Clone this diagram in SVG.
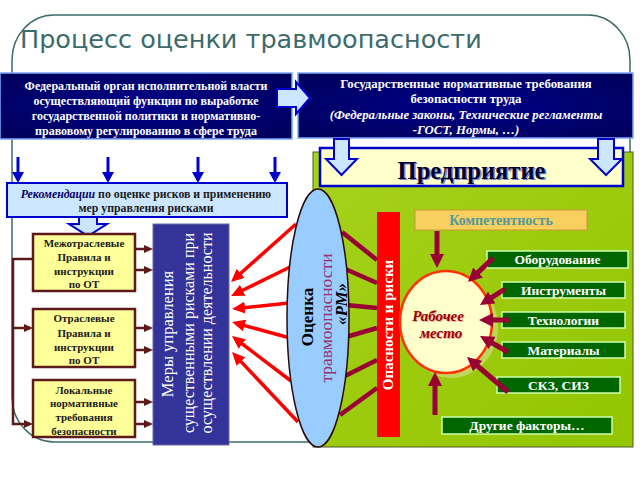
<svg xmlns="http://www.w3.org/2000/svg" width="640" height="480" viewBox="0 0 640 480">
<defs>
<style>
.frame{fill:none;stroke:#3d6b6b;stroke-width:1.5}
.wt{font-family:"Liberation Serif","Times New Roman",serif;font-weight:bold;fill:#ffffff;text-anchor:middle}
.bt{font-family:"Liberation Serif","Times New Roman",serif;font-weight:bold;fill:#1a1a1a;text-anchor:middle}
.yel{fill:#ffff99;stroke:#5c1a1a;stroke-width:2.5}
.gbox{fill:#006600;stroke:#ccffaa;stroke-width:1.5}
.gt{font-family:"Liberation Serif","Times New Roman",serif;font-weight:bold;font-size:13.5px;fill:#ffffff;text-anchor:middle}
.lb{fill:#cce6ff;stroke:#0000cc;stroke-width:2}
.mar{stroke:#990033;stroke-width:5;fill:none}
.red{stroke:#ff0000;stroke-width:3.5;fill:none}
.dk{stroke:#5c1a1a;stroke-width:2.5;fill:none}
.blu{stroke:#0000cc;stroke-width:3;fill:none}
.link{stroke:#990033;stroke-width:4.5;fill:none}
</style>
<marker id="hM" viewBox="0 0 14 14" markerUnits="userSpaceOnUse" markerWidth="14" markerHeight="14" refX="4" refY="7" orient="auto"><path d="M0,0 L14,7 L0,14 z" fill="#990033"/></marker>
<marker id="hR" viewBox="0 0 13 12" markerUnits="userSpaceOnUse" markerWidth="13" markerHeight="12" refX="4" refY="6" orient="auto"><path d="M0,0 L13,6 L0,12 z" fill="#ff0000"/></marker>
<marker id="hD" viewBox="0 0 9 8" markerUnits="userSpaceOnUse" markerWidth="9" markerHeight="8" refX="3" refY="4" orient="auto"><path d="M0,0 L9,4 L0,8 z" fill="#5c1a1a"/></marker>
<marker id="hB" viewBox="0 0 11 12" markerUnits="userSpaceOnUse" markerWidth="11" markerHeight="12" refX="3" refY="6" orient="auto"><path d="M0,0 L11,6 L0,12 z" fill="#0000cc"/></marker>
<linearGradient id="gGreen" x1="0" y1="0" x2="1" y2="1"><stop offset="0" stop-color="#a6d21c"/><stop offset="1" stop-color="#93c500"/></linearGradient>
<radialGradient id="gNavy" cx="0.5" cy="0.5" r="0.7"><stop offset="0" stop-color="#00008a"/><stop offset="1" stop-color="#000058"/></radialGradient>
</defs>

<rect class="frame" x="12" y="15" width="618" height="427" rx="42" ry="45"/>
<text x="20" y="48" font-family="'DejaVu Sans','Liberation Sans',sans-serif" font-size="25.5" fill="#3d6b6b">Процесс оценки травмоопасности</text>

<g id="enterprise-area">
<rect x="313" y="152" width="320" height="295" fill="url(#gGreen)" stroke="#4a5a2a" stroke-width="1"/>
</g>

<g id="enterprise">
<rect x="320" y="148" width="303" height="38" fill="#ffffcc" stroke="#0000cc" stroke-width="2.5"/>
<text x="473" y="180" font-family="'Liberation Serif',serif" font-weight="bold" font-size="24.5" fill="#7f86c8" text-anchor="middle">Предприятие</text>
<text x="471.5" y="178.5" font-family="'Liberation Serif',serif" font-weight="bold" font-size="24.5" fill="#000033" text-anchor="middle">Предприятие</text>
</g>

<g id="federal">
<rect x="0" y="73" width="292" height="66" fill="url(#gNavy)" stroke="#7aa6ff" stroke-width="1.5"/>
<text class="wt" font-size="12"><tspan x="146" y="90">Федеральный орган исполнительной власти</tspan><tspan x="146" y="105">осуществляющий функции по выработке</tspan><tspan x="146" y="120">государственной политики и нормативно-</tspan><tspan x="146" y="135">правовому регулированию в сфере труда</tspan></text>
</g>

<g id="state-req">
<rect x="298" y="73" width="335" height="65" fill="url(#gNavy)" stroke="#7aa6ff" stroke-width="1.5"/>
<text class="wt" font-size="12.8"><tspan x="466" y="88">Государственные нормативные требования</tspan><tspan x="466" y="103">безопасности труда</tspan><tspan x="466" y="119" font-style="italic">(Федеральные законы, Технические регламенты</tspan><tspan x="466" y="134" font-style="italic">-ГОСТ, Нормы, …)</tspan></text>
</g>

<g id="block-arrows">
<polygon class="lb" points="277,89 296,89 296,82 310,98 296,114 296,107 277,107" stroke="#3366cc" stroke-width="1.5"/>
<polygon class="lb" points="334,139 349,139 349,159 357,159 341.5,175 326,159 334,159" stroke="#3366cc" stroke-width="1.5"/>
<polygon class="lb" points="598,139 614,139 614,159 622,159 606,175 590,159 598,159" stroke="#3366cc" stroke-width="1.5"/>
<polygon class="lb" points="79,217 97,217 97,224 107,224 88,236 69,224 79,224"/>
</g>

<g id="recommendations">
<rect x="7" y="183" width="280" height="34" class="lb"/>
<text class="bt" font-size="11.8" fill="#000033"><tspan x="146" y="198"><tspan font-style="italic" fill="#000066">Рекомендации</tspan> по оценке рисков и применению</tspan><tspan x="146" y="212">мер управления рисками</tspan></text>
</g>

<g id="interbranch">
<rect class="yel" x="33" y="234" width="102" height="57"/>
<text class="bt" font-size="11"><tspan x="84" y="247">Межотраслевые</tspan><tspan x="84" y="261">Правила и</tspan><tspan x="84" y="275">инструкции</tspan><tspan x="84" y="288">по ОТ</tspan></text>
</g>
<g id="branch">
<rect class="yel" x="33" y="309" width="102" height="58"/>
<text class="bt" font-size="11"><tspan x="84" y="322">Отраслевые</tspan><tspan x="84" y="337">Правила и</tspan><tspan x="84" y="351">инструкции</tspan><tspan x="84" y="364">по ОТ</tspan></text>
</g>
<g id="local">
<rect class="yel" x="33" y="380" width="102" height="57"/>
<text class="bt" font-size="11"><tspan x="84" y="394">Локальные</tspan><tspan x="84" y="407">нормативные</tspan><tspan x="84" y="421">требования</tspan><tspan x="84" y="435">безопасности</tspan></text>
</g>

<g id="measures">
<rect x="153" y="224" width="76" height="221" fill="#333399" stroke="#6a6aa0" stroke-width="1"/>
<text font-family="'Liberation Serif',serif" fill="#ffffff" text-anchor="middle" font-size="16.5" transform="translate(173,334) rotate(-90)">Меры управления</text>
<text font-family="'Liberation Serif',serif" fill="#ffffff" text-anchor="middle" font-size="16" transform="translate(194,333) rotate(-90)">существенными рисками при</text>
<text font-family="'Liberation Serif',serif" fill="#ffffff" text-anchor="middle" font-size="16" transform="translate(212,333) rotate(-90)">осуществлении  деятельности</text>
</g>

<g id="connectors">
<line class="blu" x1="18" y1="157" x2="18" y2="175" marker-end="url(#hB)"/>
<line class="blu" x1="108" y1="157" x2="108" y2="175" marker-end="url(#hB)"/>
<line class="blu" x1="198" y1="157" x2="198" y2="175" marker-end="url(#hB)"/>
<line class="blu" x1="275" y1="157" x2="275" y2="175" marker-end="url(#hB)"/>
<polyline class="dk" points="33,259 13,259 13,424 27,424" marker-end="url(#hD)"/>
<line class="dk" x1="13" y1="328" x2="27" y2="328" marker-end="url(#hD)"/>
<line class="dk" x1="135" y1="249" x2="147" y2="249" marker-end="url(#hD)"/>
<line class="dk" x1="135" y1="270" x2="147" y2="270" marker-end="url(#hD)"/>
<line class="dk" x1="135" y1="328" x2="147" y2="328" marker-end="url(#hD)"/>
<line class="dk" x1="135" y1="350" x2="147" y2="350" marker-end="url(#hD)"/>
<line class="dk" x1="135" y1="402" x2="147" y2="402" marker-end="url(#hD)"/>
<line class="dk" x1="135" y1="424" x2="147" y2="424" marker-end="url(#hD)"/>
<line class="red" x1="296" y1="224" x2="237.7" y2="276" marker-end="url(#hR)"/>
<line class="red" x1="290" y1="267" x2="239.1" y2="292" marker-end="url(#hR)"/>
<line class="red" x1="289" y1="303" x2="241" y2="308" marker-end="url(#hR)"/>
<line class="red" x1="290" y1="338" x2="240.7" y2="324.5" marker-end="url(#hR)"/>
<line class="red" x1="291" y1="381" x2="239.1" y2="341.5" marker-end="url(#hR)"/>
<line class="red" x1="298" y1="422" x2="238.2" y2="358.6" marker-end="url(#hR)"/>
<line class="link" x1="342" y1="232" x2="377" y2="260"/>
<line class="link" x1="343" y1="268" x2="377" y2="283"/>
<line class="link" x1="346" y1="305" x2="377" y2="308"/>
<line class="link" x1="346" y1="337" x2="377" y2="328"/>
<line class="link" x1="343" y1="377" x2="377" y2="360"/>
<line class="link" x1="340" y1="415" x2="377" y2="388"/>
</g>

<g id="assessment">
<ellipse cx="318" cy="318" rx="31" ry="129" fill="#99ccff" stroke="#2a0a0a" stroke-width="1.5"/>
<text font-family="'Liberation Serif',serif" font-weight="bold" font-size="17" fill="#000000" text-anchor="middle" transform="translate(313,317) rotate(-90)">Оценка</text>
<text font-family="'Liberation Serif',serif" font-size="17.5" fill="#993366" text-anchor="middle" transform="translate(332,318) rotate(-90)">травмоопасности</text>
<text font-family="'Liberation Serif',serif" font-weight="bold" font-style="italic" font-size="17" fill="#000000" text-anchor="middle" transform="translate(347,304) rotate(-90)">«РМ»</text>
</g>

<g id="hazards">
<rect x="377" y="212" width="23" height="225" fill="#ff0000"/>
<text font-family="'Liberation Serif',serif" font-weight="bold" font-size="15" fill="#ffffff" text-anchor="middle" transform="translate(393,325) rotate(-90)">Опасности и риски</text>
</g>

<g id="competence">
<rect x="415" y="210" width="172" height="20" fill="#f9d060" stroke="#c89a30" stroke-width="1"/>
<text x="501" y="225" font-family="'Liberation Serif',serif" font-weight="bold" font-size="14" fill="#4f9a9a" text-anchor="middle">Компетентность</text>
</g>

<g id="workplace">
<ellipse cx="451" cy="327" rx="47" ry="51" fill="#c8d870" opacity="0.8"/>
<ellipse cx="446" cy="322" rx="46" ry="51" fill="#ffffcc" stroke="#ff3300" stroke-width="2.5"/>
<text font-family="'Liberation Serif',serif" font-weight="bold" font-style="italic" font-size="15" text-anchor="middle" fill="#e8b0a0"><tspan x="439" y="322">Рабочее</tspan><tspan x="442" y="339">место</tspan></text>
<text font-family="'Liberation Serif',serif" font-weight="bold" font-style="italic" font-size="15" text-anchor="middle" fill="#990000"><tspan x="438" y="321">Рабочее</tspan><tspan x="441" y="338">место</tspan></text>
</g>

<g id="equipment"><rect class="gbox" x="487" y="251" width="141" height="17"/><text class="gt" x="557.5" y="264">Оборудование</text></g>
<g id="tools"><rect class="gbox" x="502" y="282" width="123" height="16"/><text class="gt" x="563.5" y="295">Инструменты</text></g>
<g id="technology"><rect class="gbox" x="502" y="312" width="123" height="16"/><text class="gt" x="563.5" y="325">Технологии</text></g>
<g id="materials"><rect class="gbox" x="502" y="342" width="123" height="16"/><text class="gt" x="563.5" y="355">Материалы</text></g>
<g id="ppe"><rect class="gbox" x="497" y="377" width="123" height="16"/><text class="gt" x="558.5" y="390">СКЗ, СИЗ</text></g>
<g id="other"><rect class="gbox" x="442" y="417" width="170" height="17"/><text class="gt" x="527" y="430">Другие факторы…</text></g>

<g id="workplace-connectors">
<line class="mar" x1="437" y1="231" x2="437" y2="258" marker-end="url(#hM)"/>
<line class="mar" x1="493" y1="258" x2="475.2" y2="275.1" marker-end="url(#hM)"/>
<line class="mar" x1="505" y1="289" x2="488.4" y2="299.6" marker-end="url(#hM)"/>
<line class="mar" x1="509" y1="320" x2="489" y2="320" marker-end="url(#hM)"/>
<line class="mar" x1="508" y1="352" x2="488.7" y2="341" marker-end="url(#hM)"/>
<line class="mar" x1="508" y1="392" x2="474.6" y2="363.5" marker-end="url(#hM)"/>
<line class="mar" x1="435" y1="415" x2="435" y2="382" marker-end="url(#hM)"/>
</g>
</svg>
